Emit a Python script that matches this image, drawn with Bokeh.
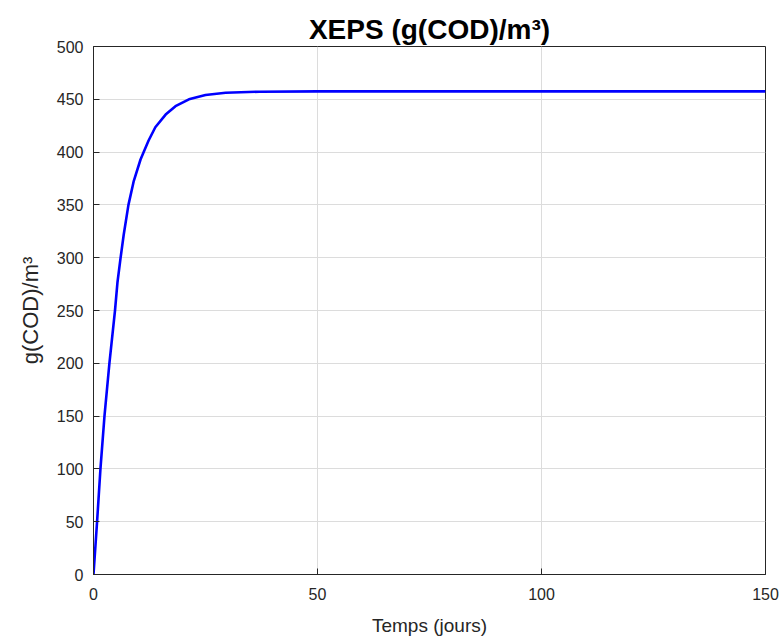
from bokeh.plotting import figure
from bokeh.models import Range1d, FixedTicker
from bokeh.embed import file_html
from bokeh.resources import INLINE

# Data
temps_jours = [0, 0.8, 1.55, 2.45, 3.55, 4.8, 5.36, 6.05, 6.75, 7.8, 8.95, 10.5, 11.3,
               12.3, 13.8, 16.1, 18.3, 21.3, 25.0, 29.5, 37.0, 50.0, 75.0, 100.0, 125.0, 150.0]
xeps = [0, 50, 100, 150, 200, 250, 277, 300, 322, 350, 372, 393, 401,
        411, 423.5, 435.5, 443.5, 450, 454, 456.2, 457.2, 457.5, 457.5, 457.5, 457.5, 457.5]
x_ticks = [0, 50, 100, 150]
y_ticks = [0, 50, 100, 150, 200, 250, 300, 350, 400, 450, 500]

title_text = "XEPS (g(COD)/m³)"
x_label = "Temps (jours)"
y_label = "g(COD)/m³"

AX = "#262626"
FONT = "Liberation Sans"

p = figure(width=783, height=643, output_backend="svg", toolbar_location=None,
           x_range=Range1d(0, 150), y_range=Range1d(0, 500),
           min_border_left=93, min_border_right=18, min_border_top=46, min_border_bottom=69,
           background_fill_color="white", border_fill_color="white",
           x_axis_label=x_label, y_axis_label=y_label)

p.title.text = title_text
p.title.text_font = FONT
p.title.text_font_style = "bold"
p.title.text_font_size = "28px"
p.title.text_color = "black"
p.title.align = "center"
p.title.standoff = 4

p.outline_line_color = AX
p.outline_line_width = 1

for ax in (p.xaxis[0], p.yaxis[0]):
    ax.axis_line_color = AX
    ax.major_tick_line_color = AX
    ax.major_tick_in = 6
    ax.major_tick_out = 0
    ax.minor_tick_line_color = None
    ax.major_label_text_font = FONT
    ax.major_label_text_font_size = "16px"
    ax.major_label_text_color = AX
    ax.axis_label_text_color = AX
    ax.axis_label_text_font = FONT
    ax.axis_label_text_font_style = "normal"

p.xaxis[0].ticker = FixedTicker(ticks=x_ticks)
p.yaxis[0].ticker = FixedTicker(ticks=y_ticks)
p.xaxis[0].major_label_standoff = 13
p.yaxis[0].major_label_standoff = 10
p.xaxis[0].axis_label_text_font_size = "19px"
p.xaxis[0].axis_label_standoff = 12
p.yaxis[0].axis_label_text_font_size = "22px"
p.yaxis[0].axis_label_standoff = 11

p.xgrid.ticker = FixedTicker(ticks=x_ticks)
p.ygrid.ticker = FixedTicker(ticks=y_ticks)
p.grid.grid_line_color = "#dcdcdc"
p.grid.grid_line_width = 1

p.line(temps_jours, xeps, line_color="#0000ff", line_width=2.6, line_join="round")

out = file_html(p, INLINE)
open("out.html", "w").write(out)
